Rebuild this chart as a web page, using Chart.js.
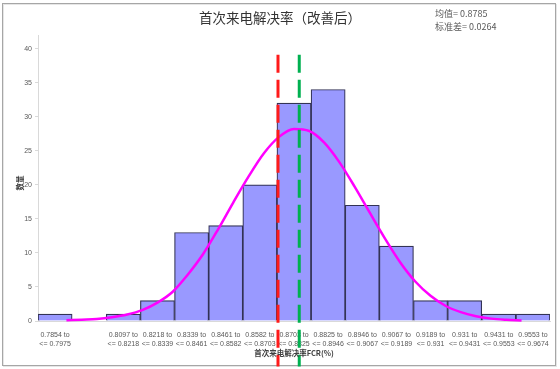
<!DOCTYPE html>
<html>
<head>
<meta charset="utf-8">
<script src="https://cdn.jsdelivr.net/npm/chart.js@4.4.0/dist/chart.umd.min.js"></script>
<style>
html,body{margin:0;padding:0;background:#fff;}
#wrap{width:560px;height:369px;}
</style>
</head>
<body>
<div id="wrap"><canvas id="c" width="560" height="369"></canvas></div>
<script>
// ---- data ----
const binLabels = [
  ["0.7854 to", "<= 0.7975"],
  ["", ""],
  ["0.8097 to", "<= 0.8218"],
  ["0.8218 to", "<= 0.8339"],
  ["0.8339 to", "<= 0.8461"],
  ["0.8461 to", "<= 0.8582"],
  ["0.8582 to", "<= 0.8703"],
  ["0.8703 to", "<= 0.8825"],
  ["0.8825 to", "<= 0.8946"],
  ["0.8946 to", "<= 0.9067"],
  ["0.9067 to", "<= 0.9189"],
  ["0.9189 to", "<= 0.931"],
  ["0.931 to", "<= 0.9431"],
  ["0.9431 to", "<= 0.9553"],
  ["0.9553 to", "<= 0.9674"]
];
const counts = [1, 0, 1, 3, 13, 14, 20, 32, 34, 17, 11, 3, 3, 1, 1];
const rangeMin = 0.7854;
const rangeMax = 0.9674;
const curveX = [0.7854,0.7915,0.7975,0.8036,0.8097,0.8157,0.8218,0.8279,0.8339,0.8400,0.8461,0.8521,0.8582,0.8643,0.8703,0.8764,0.8825,0.8885,0.8946,0.9007,0.9067,0.9128,0.9189,0.9249,0.9310,0.9371,0.9431,0.9492,0.9553,0.9613,0.9674];
const curveY = [0.1,0.2,0.3,0.55,0.95,1.6,2.7,4.3,6.8,9.8,13.5,17.4,21.2,24.6,27.0,28.2,27.9,26.2,23.3,19.7,15.9,12.1,8.6,5.8,3.7,2.2,1.3,0.7,0.35,0.18,0.08];
const targetValue = 0.87;
const meanValue = 0.8785;
const lineTop = 39.1;
const lineBottom = -6.7;
const yTicksMax = 42;
const titleText = "首次来电解决率（改善后）";
const statLines = ["均值= 0.8785", "标准差= 0.0264"];
const xTitle = "首次来电解决率FCR(%)";
const yTitle = "数量";

const decor = {
  id: 'decor',
  beforeDraw(chart) {
    const ctx = chart.ctx;
    ctx.save();
    ctx.fillStyle = '#fff';
    ctx.fillRect(0, 0, chart.width, chart.height);
    ctx.strokeStyle = '#e6e6e6';
    ctx.lineWidth = 1;
    ctx.strokeRect(3.5, 4.5, 553, 362);
    ctx.strokeStyle = '#a6a6a6';
    ctx.strokeRect(2.5, 3.5, 553, 362);
    ctx.restore();
  },
  afterDraw(chart) {
    const ctx = chart.ctx;
    const ca = chart.chartArea;
    ctx.save();
    ctx.fillStyle = '#333333';
    ctx.font = '13.5px "Noto Sans CJK SC"';
    ctx.textAlign = 'center';
    ctx.textBaseline = 'middle';
    ctx.fillText(titleText, 280, 18);
    ctx.fillStyle = '#595959';
    ctx.font = '9px "Noto Sans CJK SC"';
    ctx.textAlign = 'left';
    ctx.fillText(statLines[0], 435, 14);
    ctx.fillText(statLines[1], 435, 27);
    ctx.font = 'bold 7.5px "Noto Sans CJK SC"';
    ctx.fillStyle = '#404040';
    ctx.textAlign = 'center';
    ctx.fillText(xTitle, (ca.left + ca.right) / 2, 353);
    ctx.translate(20, (ca.top + ca.bottom) / 2 + 5);
    ctx.rotate(-Math.PI / 2);
    ctx.fillText(yTitle, 0, 0);
    ctx.restore();
  }
};

new Chart(document.getElementById('c'), {
  type: 'bar',
  data: {
    labels: binLabels,
    datasets: [
      {
        type: 'line',
        xAxisID: 'x2',
        data: [{x: targetValue, y: lineTop}, {x: targetValue, y: lineBottom}],
        borderColor: '#ff1a1a',
        borderWidth: 3,
        borderDash: [18, 7],
        pointRadius: 0,
        clip: false,
        order: 0
      },
      {
        type: 'line',
        xAxisID: 'x2',
        data: [{x: meanValue, y: lineTop}, {x: meanValue, y: lineBottom}],
        borderColor: '#00b050',
        borderWidth: 3,
        borderDash: [18, 7],
        pointRadius: 0,
        clip: false,
        order: 0
      },
      {
        type: 'line',
        xAxisID: 'x2',
        data: curveX.map((x, i) => ({x: x, y: curveY[i]})),
        borderColor: '#ff00ff',
        borderWidth: 2.5,
        pointRadius: 0,
        cubicInterpolationMode: 'monotone',
        fill: false,
        clip: false,
        order: 1
      },
      {
        type: 'bar',
        xAxisID: 'x',
        data: counts,
        backgroundColor: '#9999ff',
        borderColor: '#333355',
        borderWidth: 1.2,
        barPercentage: 1,
        categoryPercentage: 1,
        grouped: false,
        order: 2
      }
    ]
  },
  options: {
    responsive: false,
    animation: false,
    events: [],
    layout: {padding: {left: 8, right: 10, top: 35, bottom: 0}},
    plugins: {legend: {display: false}, tooltip: {enabled: false}, title: {display: false}},
    scales: {
      x: {
        type: 'category',
        offset: true,
        grid: {display: false},
        border: {display: true, color: '#d9d9d9'},
        ticks: {
          autoSkip: false, maxRotation: 0, minRotation: 0,
          color: '#595959', font: {family: 'Liberation Sans', size: 7}, padding: 2
        },
        afterFit(s) { s.height = 48; }
      },
      x2: {
        type: 'linear',
        display: false,
        min: rangeMin,
        max: rangeMax
      },
      y: {
        min: 0,
        max: yTicksMax,
        grid: {drawOnChartArea: false, tickLength: 3, color: '#d9d9d9'},
        border: {color: '#d9d9d9'},
        ticks: {stepSize: 5, includeBounds: false, color: '#595959', font: {family: 'Liberation Sans', size: 7}, padding: 3},
        afterFit(s) { s.width = 30; }
      }
    }
  },
  plugins: [decor]
});
</script>
</body>
</html>
